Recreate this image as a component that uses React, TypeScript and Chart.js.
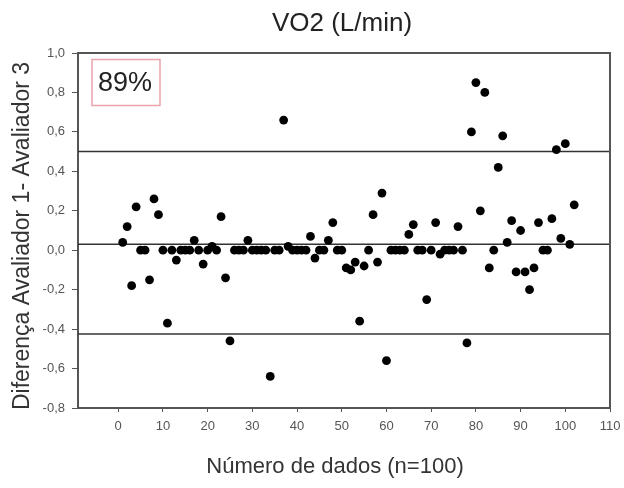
import React, { useEffect, useRef } from "react";
import { Chart, registerables } from "chart.js";

Chart.register(...registerables);

const titleText = "VO2 (L/min)";
const xTitle = "Número de dados (n=100)";
const yTitle = "Diferença Avaliador 1- Avaliador 3";
const agreementLabel = "89%";

const xTicks = [0, 10, 20, 30, 40, 50, 60, 70, 80, 90, 100, 110];
const yTicks = [-0.8, -0.6, -0.4, -0.2, 0.0, 0.2, 0.4, 0.6, 0.8, 1.0];

const dataIndex = [
  1, 2, 3, 4, 5, 6, 7, 8, 9, 10,
  11, 12, 13, 14, 15, 16, 17, 18, 19, 20,
  21, 22, 23, 24, 25, 26, 27, 28, 29, 30,
  31, 32, 33, 34, 35, 36, 37, 38, 39, 40,
  41, 42, 43, 44, 45, 46, 47, 48, 49, 50,
  51, 52, 53, 54, 55, 56, 57, 58, 59, 60,
  61, 62, 63, 64, 65, 66, 67, 68, 69, 70,
  71, 72, 73, 74, 75, 76, 77, 78, 79, 80,
  81, 82, 83, 84, 85, 86, 87, 88, 89, 90,
  91, 92, 93, 94, 95, 96, 97, 98, 99, 100,
  101, 102,
];

const differences = [
  0.04, 0.12, -0.18, 0.22, 0.0, 0.0, -0.15, 0.26, 0.18, 0.0,
  -0.37, 0.0, -0.05, 0.0, 0.0, 0.0, 0.05, 0.0, -0.07, 0.0,
  0.02, 0.0, 0.17, -0.14, -0.46, 0.0, 0.0, 0.0, 0.05, 0.0,
  0.0, 0.0, 0.0, -0.64, 0.0, 0.0, 0.66, 0.02, 0.0, 0.0,
  0.0, 0.0, 0.07, -0.04, 0.0, 0.0, 0.05, 0.14, 0.0, 0.0,
  -0.09, -0.1, -0.06, -0.36, -0.08, 0.0, 0.18, -0.06, 0.29, -0.56,
  0.0, 0.0, 0.0, 0.0, 0.08, 0.13, 0.0, 0.0, -0.25, 0.0,
  0.14, -0.02, 0.0, 0.0, 0.0, 0.12, 0.0, -0.47, 0.6, 0.85,
  0.2, 0.8, -0.09, 0.0, 0.42, 0.58, 0.04, 0.15, -0.11, 0.1,
  -0.11, -0.2, -0.09, 0.14, 0.0, 0.0, 0.16, 0.51, 0.06, 0.54,
  0.03, 0.23,
];

const meanDiff = 0.03;
const upperLimit = 0.5;
const lowerLimit = -0.425;

const X_MIN = -9;
const X_MAX = 110;

const FONT = "'Liberation Sans', Arial, sans-serif";

const overlayPlugin = {
  id: "overlay",
  afterDraw(chart: any) {
    const { ctx, chartArea } = chart;
    ctx.save();
    // frame top & right
    ctx.strokeStyle = "#555";
    ctx.lineWidth = 2;
    ctx.beginPath();
    ctx.moveTo(chartArea.left, chartArea.top);
    ctx.lineTo(chartArea.right, chartArea.top);
    ctx.lineTo(chartArea.right, chartArea.bottom);
    ctx.stroke();

    // title
    ctx.fillStyle = "#222";
    ctx.textAlign = "center";
    ctx.textBaseline = "middle";
    ctx.font = `26px ${FONT}`;
    ctx.fillText(titleText, 342, 24);

    // x title
    ctx.fillStyle = "#333";
    ctx.font = `22px ${FONT}`;
    ctx.fillText(xTitle, 335, 467);

    // y title
    ctx.save();
    ctx.translate(23, 236);
    ctx.rotate(-Math.PI / 2);
    ctx.font = `23px ${FONT}`;
    ctx.fillText(yTitle, 0, 0);
    ctx.restore();

    // agreement box
    ctx.strokeStyle = "#e9a3ab";
    ctx.lineWidth = 1.5;
    ctx.strokeRect(92, 59.5, 68, 46);
    ctx.fillStyle = "#222";
    ctx.font = `27px ${FONT}`;
    ctx.fillText(agreementLabel, 125, 84);
    ctx.restore();
  },
};

function hLine(value: number) {
  return {
    type: "line" as const,
    data: [
      { x: X_MIN, y: value },
      { x: X_MAX, y: value },
    ],
    borderColor: "#333",
    borderWidth: 1.5,
    pointRadius: 0,
    showLine: true,
    fill: false,
  };
}

export default function App() {
  const canvasRef = useRef<HTMLCanvasElement | null>(null);

  useEffect(() => {
    if (!canvasRef.current) return;
    const points = dataIndex.map((x, i) => ({ x, y: differences[i] }));
    const chart = new Chart(canvasRef.current, {
      type: "scatter",
      data: {
        datasets: [
          {
            data: points,
            backgroundColor: "#000",
            borderColor: "#000",
            pointRadius: 4.4,
            pointBorderWidth: 0,
          } as any,
          hLine(meanDiff),
          hLine(upperLimit),
          hLine(lowerLimit),
        ],
      },
      options: {
        animation: false,
        responsive: false,
        maintainAspectRatio: false,
        layout: { padding: { top: 53, right: 14, left: 0, bottom: 0 } },
        plugins: {
          legend: { display: false },
          tooltip: { enabled: false },
        },
        scales: {
          x: {
            type: "linear",
            min: X_MIN,
            max: X_MAX,
            afterBuildTicks: (scale: any) => {
              scale.ticks = xTicks.map((v) => ({ value: v }));
            },
            afterFit: (scale: any) => {
              scale.height = 80;
              scale.paddingLeft = 0;
              scale.paddingRight = 0;
            },
            grid: {
              drawOnChartArea: false,
              drawTicks: true,
              tickLength: 4,
              color: "#555",
            },
            border: { display: true, color: "#555", width: 2 },
            ticks: {
              color: "#555",
              font: { family: FONT, size: 13 },
              padding: 7,
              maxRotation: 0,
              autoSkip: false,
            },
          },
          y: {
            type: "linear",
            min: -0.8,
            max: 1.0,
            afterBuildTicks: (scale: any) => {
              scale.ticks = yTicks.map((v) => ({ value: v }));
            },
            afterFit: (scale: any) => {
              scale.width = 78;
              scale.paddingTop = 0;
              scale.paddingBottom = 0;
            },
            grid: {
              drawOnChartArea: false,
              drawTicks: true,
              tickLength: 6,
              color: "#555",
            },
            border: { display: true, color: "#555", width: 2 },
            ticks: {
              color: "#555",
              font: { family: FONT, size: 13 },
              padding: 7,
              callback: (v: any) => Number(v).toFixed(1).replace(".", ","),
            },
          },
        },
      } as any,
      plugins: [overlayPlugin],
    });
    return () => chart.destroy();
  }, []);

  return (
    <div style={{ position: "fixed", left: 0, top: 0, width: 624, height: 488, background: "#fff" }}>
      <canvas ref={canvasRef} width={624} height={488} style={{ width: 624, height: 488 }} />
    </div>
  );
}
